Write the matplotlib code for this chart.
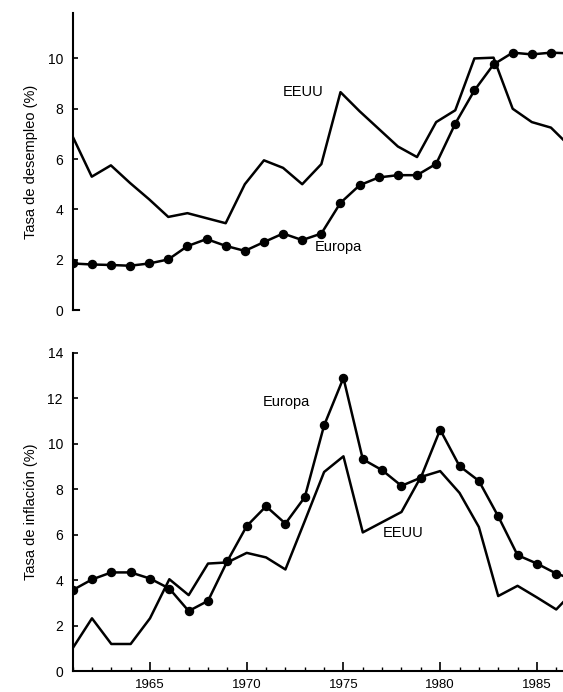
import matplotlib
matplotlib.use("Agg")
import matplotlib.pyplot as plt
from matplotlib.ticker import MultipleLocator

plt.rcParams['font.family'] = ['Liberation Sans', 'DejaVu Sans']

# desempleo (%)
anios_des = list(range(1961, 1988))
eeuu_des = [6.9, 5.3, 5.75, 5.05, 4.4, 3.7, 3.85, 3.65, 3.45, 5.0, 5.95, 5.65, 5.0, 5.8,
            8.66, 7.9, 7.2, 6.5, 6.08, 7.47, 7.94, 10.0, 10.03, 8.0, 7.47, 7.25, 6.5]
europa_des = [1.85, 1.81, 1.79, 1.76, 1.85, 2.01, 2.54, 2.82, 2.55, 2.35, 2.7, 3.04, 2.78,
              3.04, 4.26, 4.96, 5.27, 5.36, 5.36, 5.81, 7.41, 8.73, 9.76, 10.23, 10.16, 10.23, 10.2]

# inflacion (%)
anios_inf = list(range(1961, 1988))
eeuu_inf = [1.0, 2.32, 1.19, 1.19, 2.32, 4.04, 3.34, 4.73, 4.78, 5.2, 5.0, 4.47, 6.6, 8.76,
            9.45, 6.1, 6.55, 7.0, 8.54, 8.8, 7.84, 6.34, 3.3, 3.75, 3.24, 2.71, 3.6]
europa_inf = [3.56, 4.03, 4.34, 4.34, 4.07, 3.63, 2.64, 3.09, 4.84, 6.38, 7.25, 6.49, 7.65,
              10.81, 12.9, 9.32, 8.84, 8.15, 8.51, 10.62, 9.02, 8.37, 6.81, 5.1, 4.73, 4.29, 4.0]

fig = plt.figure(figsize=(5.63, 6.92), dpi=100)

lw = 1.8
ms = 5.8

# panel de arriba
ax1 = fig.add_axes([0.129, 0.552, 0.871, 0.429])
ax1.plot(anios_des, eeuu_des, color='black', lw=lw)
ax1.plot(anios_des, europa_des, color='black', lw=lw, marker='o', markersize=ms)
ax1.set_xlim(1961, 1986.63)
ax1.set_ylim(0, 11.8)
ax1.set_yticks([0, 2, 4, 6, 8, 10])
ax1.spines['top'].set_visible(False)
ax1.spines['right'].set_visible(False)
ax1.spines['bottom'].set_visible(False)
ax1.spines['left'].set_linewidth(1.5)
ax1.tick_params(axis='y', direction='in', length=3.5, width=1.2, pad=7, labelsize=10)
ax1.set_xticks([])
ax1.plot([1961, 1961.35], [0, 0], color='black', lw=1.5, clip_on=False)
ax1.set_ylabel('Tasa de desempleo (%)', fontsize=10.5)
ax1.yaxis.set_label_coords(-0.071, 0.5)
ax1.text(1971.98, 8.65, 'EEUU', fontsize=10.5, va='center', ha='left')
ax1.text(1973.67, 2.5, 'Europa', fontsize=10.5, va='center', ha='left')

# panel de abajo
ax2 = fig.add_axes([0.129, 0.0303, 0.871, 0.4597])
ax2.plot(anios_inf, eeuu_inf, color='black', lw=lw)
ax2.plot(anios_inf, europa_inf, color='black', lw=lw, marker='o', markersize=ms)
ax2.set_xlim(1961, 1986.35)
ax2.set_ylim(0, 14)
ax2.set_yticks([0, 2, 4, 6, 8, 10, 12, 14])
ax2.xaxis.set_major_locator(MultipleLocator(5))
ax2.xaxis.set_minor_locator(MultipleLocator(1))
ax2.spines['top'].set_visible(False)
ax2.spines['right'].set_visible(False)
ax2.spines['left'].set_linewidth(1.5)
ax2.spines['bottom'].set_linewidth(1.5)
ax2.tick_params(axis='y', direction='in', length=3.5, width=1.2, pad=7, labelsize=10)
ax2.tick_params(axis='x', which='major', direction='in', length=6.5, width=1.2, pad=5.5, labelsize=9.5)
ax2.tick_params(axis='x', which='minor', direction='in', length=3.2, width=1.0)
ax2.set_ylabel('Tasa de inflación (%)', fontsize=10.5)
ax2.yaxis.set_label_coords(-0.071, 0.5)
ax2.text(1970.82, 11.84, 'Europa', fontsize=10.5, va='center', ha='left')
ax2.text(1977.05, 6.07, 'EEUU', fontsize=10.5, va='center', ha='left')

fig.savefig('out.png', dpi=100)
